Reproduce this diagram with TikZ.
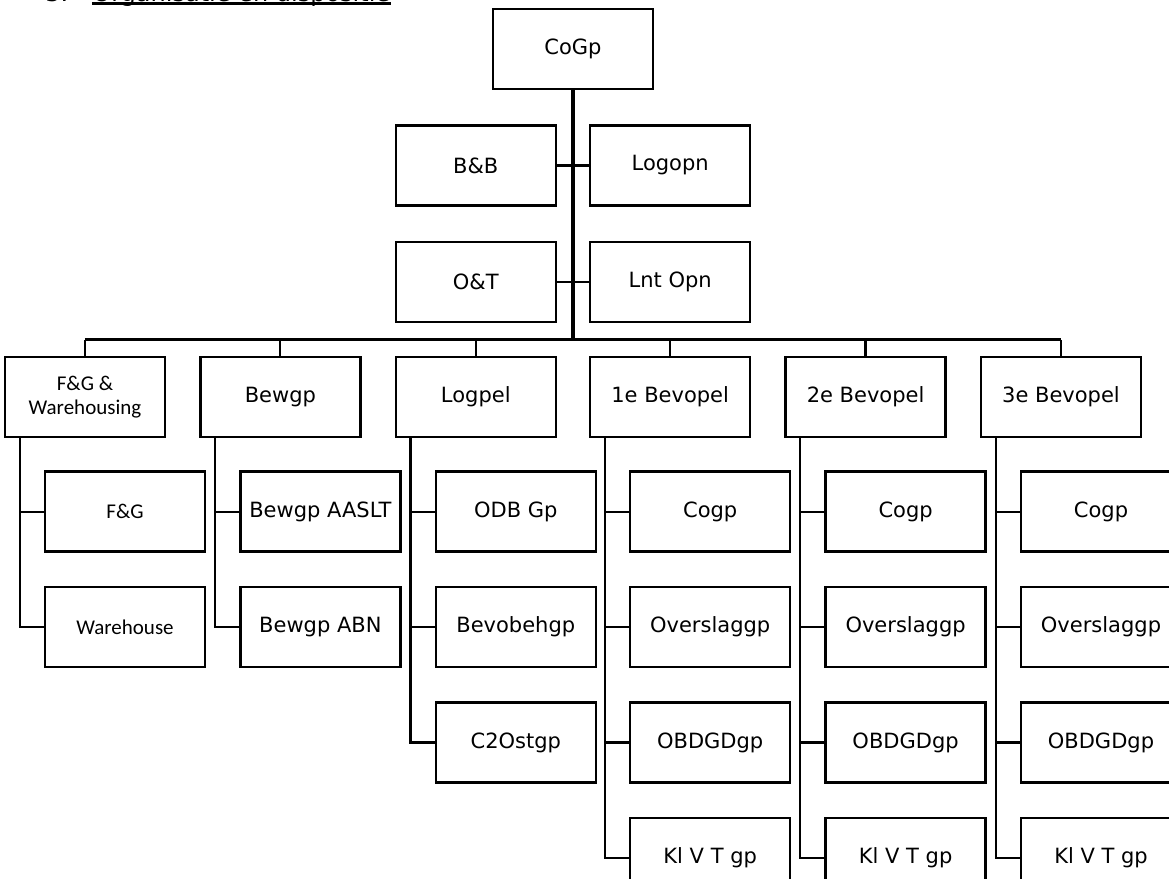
\documentclass[tikz,border=0pt]{standalone}
\usepackage{fontspec}
\setmainfont{DejaVu Sans}
\newfontfamily\calfont{Carlito}
\usetikzlibrary{positioning}

\begin{document}
\begin{tikzpicture}[node distance = 16.5pt, font=\fontsize{10.5}{12.6}\selectfont]
\tikzstyle{box}=[draw, line width=1.2pt, minimum width=80pt, minimum height=40pt, inner xsep=1pt, align=center]
\tikzstyle{cbox}=[box, font=\calfont\fontsize{10.5}{12}\selectfont]
\tikzstyle{ttl}=[anchor=base west, inner sep=0pt, font=\fontsize{12}{14}\selectfont]
\tikzstyle{link}=[line width=1.1pt]
\tikzstyle{trunk}=[line width=1.75pt]
\tikzstyle{elbow}=[to path={|- (\tikztotarget)}]
\useasboundingbox (-286.5pt,-415pt) rectangle (298pt,24.5pt);

% heading, cut off by the top edge
\node[ttl]	(num)	at (-264pt,24pt)		{3.};
\node[ttl]	(title)	at (-240.5pt,24pt)	{Organisatie en dispositie};
\draw[link] ([yshift=-1.25pt]title.base west) -- ([yshift=-1.25pt]title.base east);

\node[box]	(CoGp)	at (0,0)							{CoGp};
\node[box]	(BB)	[below left=17pt and 8pt of CoGp.south]	{B\&B};
\node[box]	(Logopn)	[below right=17pt and 8pt of CoGp.south]	{Logopn};
\node[box]	(OT)	[below=17pt of BB]					{O\&T};
\node[box]	(LntOpn)	[below=17pt of Logopn]			{Lnt Opn};
\coordinate[below=8.25pt of OT]	(bus);

% second row
\node[box]	(Logpel)	[below=16.5pt of OT]			{Logpel};
\node[box]	(Bev1)	[below=16.5pt of LntOpn]			{1e Bevopel};
\node[box]	(Bewgp)	[left=of Logpel]					{Bewgp};
\node[cbox]	(FGW)	[left=of Bewgp]						{F\&G \&\\Warehousing};
\node[box]	(Bev2)	[right=of Bev1]						{2e Bevopel};
\node[box]	(Bev3)	[right=of Bev2]						{3e Bevopel};

% sub units
\node[cbox]	(FG)	[below=16pt of FGW, xshift=20pt]	{F\&G};
\node[cbox]	(WH)	[below=16.5pt of FG]				{Warehouse};
\node[box]	(BewA)	[below=16pt of Bewgp, xshift=20pt]	{Bewgp AASLT};
\node[box]	(BewB)	[below=16.5pt of BewA]				{Bewgp ABN};
\node[box]	(ODB)	[below=16pt of Logpel, xshift=20pt]	{ODB Gp};
\node[box]	(Bvb)	[below=16.5pt of ODB]				{Bevobehgp};
\node[box]	(C2O)	[below=16.5pt of Bvb]				{C2Ostgp};
\node[box]	(CoA)	[below=16pt of Bev1, xshift=20pt]	{Cogp};
\node[box]	(OvA)	[below=16.5pt of CoA]				{Overslaggp};
\node[box]	(ObA)	[below=16.5pt of OvA]				{OBDGDgp};
\node[box]	(KlA)	[below=16.5pt of ObA]				{Kl V T gp};
\node[box]	(CoB)	[below=16pt of Bev2, xshift=20pt]	{Cogp};
\node[box]	(OvB)	[below=16.5pt of CoB]				{Overslaggp};
\node[box]	(ObB)	[below=16.5pt of OvB]				{OBDGDgp};
\node[box]	(KlB)	[below=16.5pt of ObB]				{Kl V T gp};
\node[box]	(CoC)	[below=16pt of Bev3, xshift=20pt]	{Cogp};
\node[box]	(OvC)	[below=16.5pt of CoC]				{Overslaggp};
\node[box]	(ObC)	[below=16.5pt of OvC]				{OBDGDgp};
\node[box]	(KlC)	[below=16.5pt of ObC]				{Kl V T gp};

\path[trunk] (CoGp)	edge	(CoGp |- bus);
\path[link]	(BB)		edge	(Logopn)
	 (OT)		edge	(LntOpn)
	 (FGW |- bus)	edge	(Bev3 |- bus)
	 (FGW)		edge	(FGW |- bus)
	 (Bewgp)	edge	(Bewgp |- bus)
	 (Logpel)	edge	(Logpel |- bus)
	 (Bev1)		edge	(Bev1 |- bus)
	 (Bev2)		edge	(Bev2 |- bus)
	 (Bev3)		edge	(Bev3 |- bus)
	 ([xshift=8pt]FGW.south west)	edge[elbow]	(FG)
	 ([xshift=8pt]FGW.south west)	edge[elbow]	(WH)
	 ([xshift=8pt]Bewgp.south west)	edge[elbow]	(BewA)
	 ([xshift=8pt]Bewgp.south west)	edge[elbow]	(BewB)
	 ([xshift=8pt]Logpel.south west)	edge[elbow]	(ODB)
	 ([xshift=8pt]Logpel.south west)	edge[elbow]	(Bvb)
	 ([xshift=8pt]Logpel.south west)	edge[elbow]	(C2O)
	 ([xshift=8pt]Bev1.south west)	edge[elbow]	(CoA)
	 ([xshift=8pt]Bev1.south west)	edge[elbow]	(OvA)
	 ([xshift=8pt]Bev1.south west)	edge[elbow]	(ObA)
	 ([xshift=8pt]Bev1.south west)	edge[elbow]	(KlA)
	 ([xshift=8pt]Bev2.south west)	edge[elbow]	(CoB)
	 ([xshift=8pt]Bev2.south west)	edge[elbow]	(OvB)
	 ([xshift=8pt]Bev2.south west)	edge[elbow]	(ObB)
	 ([xshift=8pt]Bev2.south west)	edge[elbow]	(KlB)
	 ([xshift=8pt]Bev3.south west)	edge[elbow]	(CoC)
	 ([xshift=8pt]Bev3.south west)	edge[elbow]	(OvC)
	 ([xshift=8pt]Bev3.south west)	edge[elbow]	(ObC)
	 ([xshift=8pt]Bev3.south west)	edge[elbow]	(KlC);
\end{tikzpicture}
\end{document}
